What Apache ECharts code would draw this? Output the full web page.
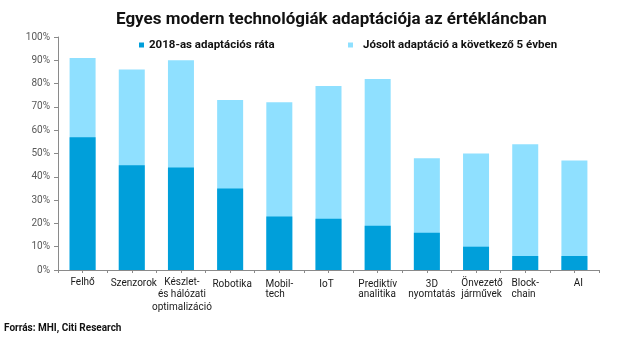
<!DOCTYPE html>
<html>
<head>
<meta charset="utf-8">
<script src="https://cdn.jsdelivr.net/npm/echarts@6/dist/echarts.min.js"></script>
<style>
  html, body { margin: 0; padding: 0; background: #fff; }
  #chart { width: 640px; height: 338px; }
</style>
</head>
<body>
<div id="chart"></div>
<script>
// Technologies along the value chain
const categories = [
  'Felhő', 'Szenzorok', 'Készlet-\nés hálózati\noptimalizáció', 'Robotika',
  'Mobil-\ntech', 'IoT', 'Prediktív\nanalitika', '3D\nnyomtatás',
  'Önvezető\njárművek', 'Block-\nchain', 'AI'
];
// Adoption rate in 2018 (%)
const adoption2018 = [57, 45, 44, 35, 23, 22, 19, 16, 10, 6, 6];
// Expected adoption within the next 5 years (%, total)
const adoption5y = [91, 86, 90, 73, 72, 79, 82, 48, 50, 54, 47];
const yTicks = [0, 10, 20, 30, 40, 50, 60, 70, 80, 90, 100];

const seriesNames = ['2018-as adaptációs ráta', 'Jósolt adaptáció a következő 5 évben'];

// Layout tweaks for the category labels: [dx, dy, left-aligned lines]
const labelLayout = [
  [0, 0, false], [2, 2, false], [1, 0, false], [2, 5, false],
  [0, 5, true], [-2, 5, false], [0, 4, true], [5, 5, false],
  [6, 2, true], [0, 2, true], [4, 2, false]
];

const DARK = '#009fda';
const LIGHT = '#8fe0ff';
const FONT = 'Roboto, sans-serif';

const rich = {};
labelLayout.forEach(([dx, dy, left], i) => {
  const base = {
    fontFamily: FONT, fontSize: 10, color: '#1a1a1a', lineHeight: 12.5,
    align: left ? 'left' : 'center'
  };
  rich['f' + i] = Object.assign({}, base, {
    padding: [dy, dx < 0 ? -2 * dx : 0, 0, dx > 0 ? 2 * dx : 0]
  });
  rich['n' + i] = Object.assign({}, base, {
    padding: [0, dx < 0 ? -2 * dx : 0, 0, dx > 0 ? 2 * dx : 0]
  });
});

function formatCategory(value, idx) {
  return value.split('\n')
    .map((line, k) => '{' + (k === 0 ? 'f' : 'n') + idx + '|' + line + '}')
    .join('\n');
}

const chart = echarts.init(document.getElementById('chart'), null, { renderer: 'canvas' });

const legendText = { fontFamily: FONT, fontWeight: 'bold', fontSize: 11.5, color: '#111' };

const option = {
  animation: false,
  backgroundColor: '#ffffff',
  title: {
    text: 'Egyes modern technológiák adaptációja az értékláncban',
    left: 111, top: 6,
    textStyle: { fontFamily: FONT, fontWeight: 'bold', fontSize: 17, color: '#111' }
  },
  legend: [
    {
      data: [seriesNames[0]], left: 134, top: 34, itemWidth: 5, itemHeight: 5,
      icon: 'rect', textStyle: legendText
    },
    {
      data: [seriesNames[1]], left: 343, top: 34, itemWidth: 5, itemHeight: 5,
      icon: 'rect', textStyle: Object.assign({ padding: [0, 0, 0, 5] }, legendText)
    }
  ],
  grid: { left: 58, right: 41, top: 37, bottom: 68, containLabel: false },
  xAxis: [
    {
      type: 'category', data: categories,
      axisLine: { lineStyle: { color: '#8a8a8a', width: 1 } },
      axisTick: { show: false },
      axisLabel: { interval: 0, margin: 6, formatter: formatCategory, rich: rich }
    },
    {
      // half-category tick marks along the bottom axis
      type: 'value', min: 0, max: categories.length * 2, interval: 1, position: 'bottom',
      axisLine: { show: false },
      axisTick: { show: true, length: 3, lineStyle: { color: '#8a8a8a' } },
      axisLabel: { show: false }, splitLine: { show: false }
    }
  ],
  yAxis: {
    type: 'value', min: yTicks[0], max: yTicks[yTicks.length - 1], interval: 10,
    axisLine: { show: true, lineStyle: { color: '#8a8a8a' } },
    axisTick: { show: true, length: 4, lineStyle: { color: '#8a8a8a' } },
    splitLine: { show: false },
    axisLabel: {
      margin: 8, fontFamily: FONT, fontSize: 10,
      color: '#595959', formatter: v => v + '%'
    }
  },
  series: [
    {
      name: seriesNames[1], type: 'bar', xAxisIndex: 0, data: adoption5y,
      barWidth: 26, itemStyle: { color: LIGHT }, z: 1
    },
    {
      name: seriesNames[0], type: 'bar', xAxisIndex: 0, data: adoption2018,
      barWidth: 26, barGap: '-100%', itemStyle: { color: DARK }, z: 2
    }
  ],
  graphic: [
    {
      type: 'text', left: 4, top: 323,
      style: { text: 'Forrás: MHI, Citi Research', fontFamily: FONT, fontWeight: 'bold', fontSize: 10, fill: '#111' }
    }
  ]
};
chart.setOption(option);
</script>
</body>
</html>
